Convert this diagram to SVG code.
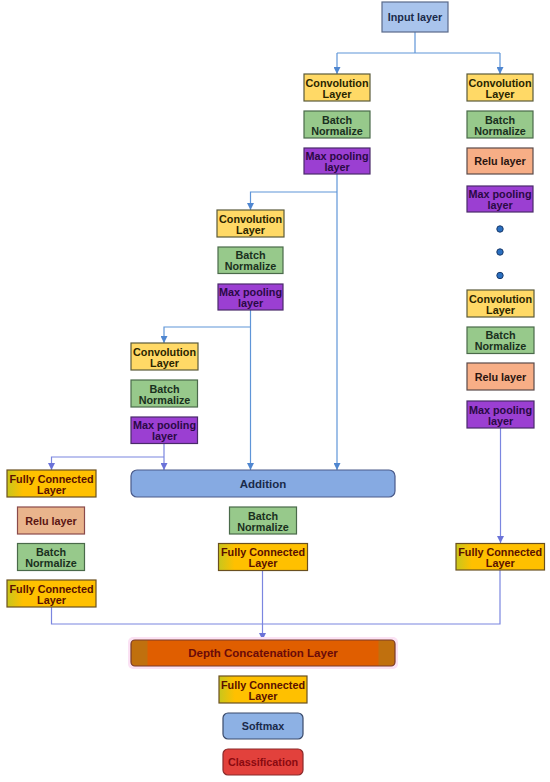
<svg xmlns="http://www.w3.org/2000/svg" width="550" height="782" viewBox="0 0 550 782">
<defs>
<style>
text{font-family:"Liberation Sans",Arial,sans-serif;font-weight:bold;font-size:10.8px;text-anchor:middle}
.conv{fill:#ffd966;stroke:#5a5a3a;stroke-width:1.2}
.bn{fill:#97c98b;stroke:#4a6a4a;stroke-width:1.2}
.mp{fill:#9b3fd2;stroke:#4a2a6a;stroke-width:1.2}
.relu{fill:#f7ae86;stroke:#5a4a4a;stroke-width:1.2}
.reluL{fill:#e9b48c;stroke:#8a4a4a;stroke-width:1.2}
.fc{fill:url(#fcg);stroke:#6a5020;stroke-width:1.2}
.inp{fill:#a9c4ec;stroke:#5a6a8a;stroke-width:1.2}
.add{fill:#86aae2;stroke:#4a5a8a;stroke-width:1.2}
.dep{fill:url(#depg);stroke:#7a3a2a;stroke-width:1.2}
.soft{fill:#8db1e4;stroke:#3a4a6a;stroke-width:1.2}
.cls{fill:#e2413c;stroke:#8a2a2a;stroke-width:1.2}
.tConv{fill:#2a2500}
.tBn{fill:#1a3020}
.tMp{fill:#2a0a45}
.tRelu{fill:#2a1510}
.tReluL{fill:#5a1512}
.tFc{fill:#5a1000}
.tInp{fill:#1a2a4a}
.tDep{fill:#6a0a0a}
.tCls{fill:#8a0a10}
.dot{fill:#2a6fc0;stroke:#1a3a6a;stroke-width:1}
.ln1{fill:none;stroke:#5f95d8;stroke-width:1.2}
.ln2{fill:none;stroke:#7b86e0;stroke-width:1.2}
</style>
<linearGradient id="fcg" x1="0" y1="0" x2="1" y2="0">
<stop offset="0" stop-color="#c8c61c"/>
<stop offset="0.18" stop-color="#ffc000"/>
<stop offset="1" stop-color="#ffc000"/>
</linearGradient>
<linearGradient id="depg" x1="0" y1="0" x2="1" y2="0">
<stop offset="0" stop-color="#c0700e"/>
<stop offset="0.06" stop-color="#c0700e"/>
<stop offset="0.065" stop-color="#e05e00"/>
<stop offset="0.935" stop-color="#e05e00"/>
<stop offset="0.94" stop-color="#c0700e"/>
<stop offset="1" stop-color="#c0700e"/>
</linearGradient>
<marker id="a1" viewBox="0 0 8 8" refX="8" refY="4" markerWidth="7" markerHeight="7" markerUnits="userSpaceOnUse" orient="auto">
<path d="M0,0 L8,4 L0,8 Z" fill="#4f86d0"/>
</marker>
<marker id="a2" viewBox="0 0 8 8" refX="8" refY="4" markerWidth="7" markerHeight="7" markerUnits="userSpaceOnUse" orient="auto">
<path d="M0,0 L8,4 L0,8 Z" fill="#6a72d8"/>
</marker>
</defs>
<rect width="550" height="782" fill="#ffffff"/>

<g id="connectors">
<path class="ln1" d="M415,32 V53 M337,53 H500"/>
<path class="ln1" d="M337,53 V74" marker-end="url(#a1)"/>
<path class="ln1" d="M500,53 V74" marker-end="url(#a1)"/>
<path class="ln1" d="M337,174 V470" marker-end="url(#a1)"/>
<path class="ln1" d="M337,192 H250.5 V210" marker-end="url(#a1)"/>
<path class="ln1" d="M250.5,310 V470" marker-end="url(#a1)"/>
<path class="ln1" d="M250.5,327 H164 V343" marker-end="url(#a1)"/>
<path class="ln2" d="M164,443 V470" marker-end="url(#a2)"/>
<path class="ln2" d="M164,457 H51.5 V470" marker-end="url(#a2)"/>
<path class="ln2" d="M500.5,428 V543" marker-end="url(#a2)"/>
<path class="ln2" d="M51.5,607 V624 H500 V570"/>
<path class="ln2" d="M262.5,570 V640" marker-end="url(#a2)"/>
</g>

<g id="input"><rect class="inp" x="382" y="2" width="66" height="30"/><text class="tInp" x="415" y="21">Input layer</text></g>

<g id="conv1"><rect class="conv" x="304" y="74" width="66" height="27"/><text class="tConv" x="337" y="86.5">Convolution</text><text class="tConv" x="337" y="97.5">Layer</text></g>
<g id="bn1"><rect class="bn" x="304" y="111" width="66" height="27"/><text class="tBn" x="337" y="123.5">Batch</text><text class="tBn" x="337" y="134.5">Normalize</text></g>
<g id="mp1"><rect class="mp" x="304" y="148" width="66" height="26"/><text class="tMp" x="337" y="160">Max pooling</text><text class="tMp" x="337" y="171">layer</text></g>

<g id="convR1"><rect class="conv" x="467" y="74" width="66" height="27"/><text class="tConv" x="500" y="86.5">Convolution</text><text class="tConv" x="500" y="97.5">Layer</text></g>
<g id="bnR1"><rect class="bn" x="467" y="111" width="66" height="27"/><text class="tBn" x="500" y="123.5">Batch</text><text class="tBn" x="500" y="134.5">Normalize</text></g>
<g id="reluR1"><rect class="relu" x="467" y="148" width="66" height="26"/><text class="tRelu" x="500" y="165">Relu layer</text></g>
<g id="mpR1"><rect class="mp" x="467" y="186" width="66" height="26"/><text class="tMp" x="500" y="198">Max pooling</text><text class="tMp" x="500" y="209">layer</text></g>
<g id="dots"><circle class="dot" cx="500" cy="229" r="3.2"/><circle class="dot" cx="500" cy="252" r="3.2"/><circle class="dot" cx="500" cy="275.5" r="3.2"/></g>
<g id="convR2"><rect class="conv" x="467" y="290" width="67" height="27"/><text class="tConv" x="500.5" y="302.5">Convolution</text><text class="tConv" x="500.5" y="313.5">Layer</text></g>
<g id="bnR2"><rect class="bn" x="467" y="327" width="67" height="26.5"/><text class="tBn" x="500.5" y="339">Batch</text><text class="tBn" x="500.5" y="350">Normalize</text></g>
<g id="reluR2"><rect class="relu" x="467" y="363" width="67" height="27"/><text class="tRelu" x="500.5" y="380.5">Relu layer</text></g>
<g id="mpR2"><rect class="mp" x="467" y="401" width="67" height="27"/><text class="tMp" x="500.5" y="413.5">Max pooling</text><text class="tMp" x="500.5" y="424.5">layer</text></g>

<g id="conv2"><rect class="conv" x="217" y="210" width="67" height="27"/><text class="tConv" x="250.5" y="222.5">Convolution</text><text class="tConv" x="250.5" y="233.5">Layer</text></g>
<g id="bn2"><rect class="bn" x="218" y="247" width="65" height="26.5"/><text class="tBn" x="250.5" y="259">Batch</text><text class="tBn" x="250.5" y="270">Normalize</text></g>
<g id="mp2"><rect class="mp" x="218" y="284" width="65" height="26"/><text class="tMp" x="250.5" y="296">Max pooling</text><text class="tMp" x="250.5" y="307">layer</text></g>

<g id="conv3"><rect class="conv" x="131" y="343" width="67" height="27"/><text class="tConv" x="164.5" y="355.5">Convolution</text><text class="tConv" x="164.5" y="366.5">Layer</text></g>
<g id="bn3"><rect class="bn" x="131" y="380" width="66.5" height="27"/><text class="tBn" x="164.5" y="392.5">Batch</text><text class="tBn" x="164.5" y="403.5">Normalize</text></g>
<g id="mp3"><rect class="mp" x="131" y="417" width="66.5" height="26.5"/><text class="tMp" x="164.5" y="429">Max pooling</text><text class="tMp" x="164.5" y="440">layer</text></g>

<g id="fcL1"><rect class="fc" x="7" y="470" width="89" height="27"/><text class="tFc" x="51.5" y="482.5">Fully Connected</text><text class="tFc" x="51.5" y="493.5">Layer</text></g>
<g id="reluL"><rect class="reluL" x="17.5" y="507" width="67" height="27"/><text class="tReluL" x="51" y="524.5">Relu layer</text></g>
<g id="bnL"><rect class="bn" x="17.5" y="543.5" width="67" height="27"/><text class="tBn" x="51" y="556">Batch</text><text class="tBn" x="51" y="567">Normalize</text></g>
<g id="fcL2"><rect class="fc" x="7" y="580" width="89" height="27"/><text class="tFc" x="51.5" y="592.5">Fully Connected</text><text class="tFc" x="51.5" y="603.5">Layer</text></g>

<g id="addition"><rect class="add" x="131" y="470" width="264" height="27" rx="6"/><text class="tInp" x="263" y="487.5" style="font-size:11.5px">Addition</text></g>
<g id="bnM"><rect class="bn" x="229.5" y="507" width="67" height="27"/><text class="tBn" x="263" y="519.5">Batch</text><text class="tBn" x="263" y="530.5">Normalize</text></g>
<g id="fcM"><rect class="fc" x="218.5" y="543.5" width="89" height="27"/><text class="tFc" x="263" y="556">Fully Connected</text><text class="tFc" x="263" y="567">Layer</text></g>
<g id="fcR"><rect class="fc" x="456" y="543.5" width="88.5" height="26.5"/><text class="tFc" x="500.2" y="555.5">Fully Connected</text><text class="tFc" x="500.2" y="566.5">Layer</text></g>

<g id="depth"><rect x="128" y="637" width="270" height="32" rx="5" fill="#fbe2f4"/><rect class="dep" x="131" y="640" width="264" height="26" rx="4"/><text class="tDep" x="263" y="657" style="font-size:11.5px">Depth Concatenation Layer</text></g>
<g id="fcB"><rect class="fc" x="219" y="676" width="88" height="27"/><text class="tFc" x="263" y="688.5">Fully Connected</text><text class="tFc" x="263" y="699.5">Layer</text></g>
<g id="softmax"><rect class="soft" x="223" y="713" width="80" height="26" rx="5"/><text class="tInp" x="263" y="730">Softmax</text></g>
<g id="classification"><rect class="cls" x="223" y="749" width="80" height="26" rx="5"/><text class="tCls" x="263" y="766">Classification</text></g>
</svg>
